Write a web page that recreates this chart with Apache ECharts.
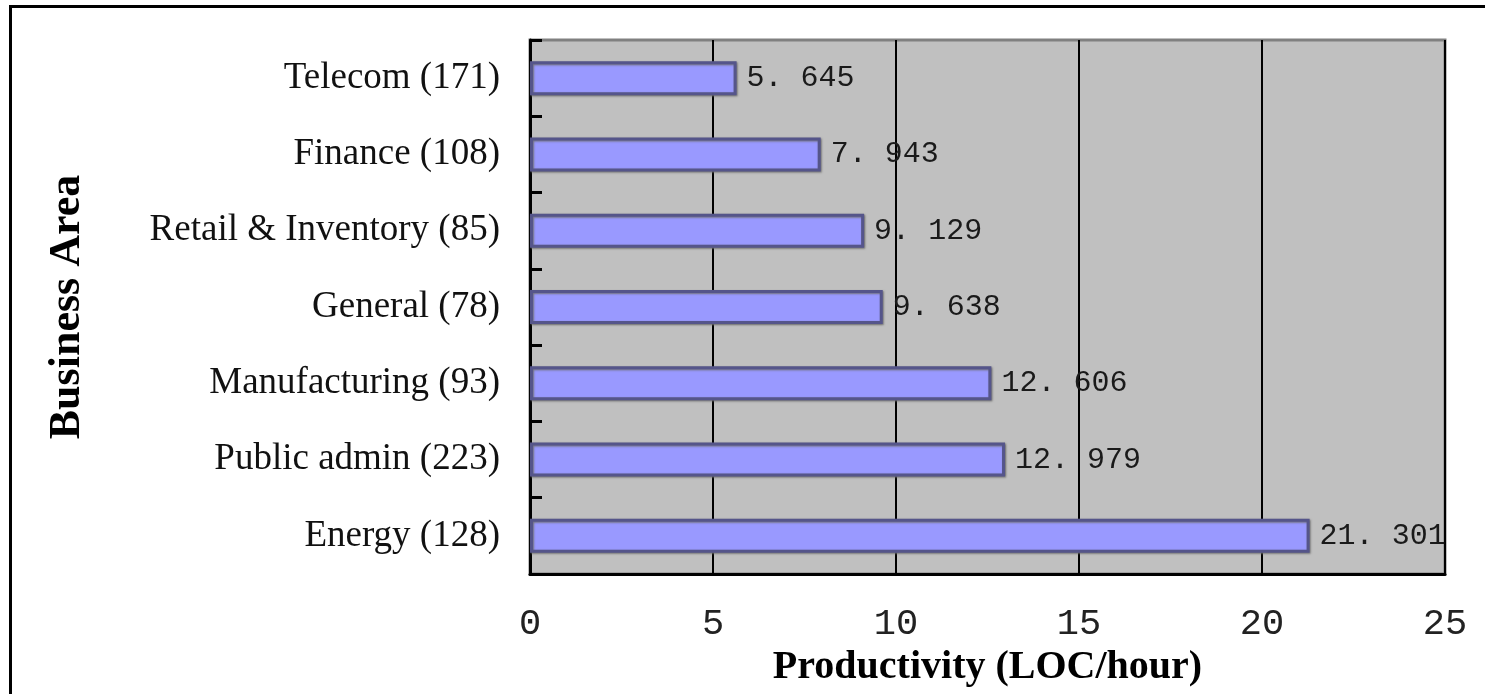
<!DOCTYPE html>
<html>
<head>
<meta charset="utf-8">
<script src="https://cdn.jsdelivr.net/npm/echarts@6/dist/echarts.min.js"></script>
<style>
html,body{margin:0;padding:0;background:#fff;}
#chart{width:1485px;height:694px;}
</style>
</head>
<body>
<div id="chart"></div>
<script>
const categories = ["Telecom (171)", "Finance (108)", "Retail & Inventory (85)", "General (78)", "Manufacturing (93)", "Public admin (223)", "Energy (128)"];
const productivity = [5.645, 7.943, 9.129, 9.638, 12.606, 12.979, 21.301];
const xTicks = [0, 5, 10, 15, 20, 25];
const xTitle = "Productivity (LOC/hour)";
const yTitle = "Business Area";

const chart = echarts.init(document.getElementById('chart'), null, {renderer: 'canvas'});
chart.setOption({
  backgroundColor: '#ffffff',
  animation: false,
  graphic: [{
    type: 'polyline',
    shape: {points: [[10.5, 700], [10.5, 6.5], [1490, 6.5]]},
    style: {stroke: '#000', lineWidth: 3, fill: null},
    z: 100
  }],
  grid: {
    left: 530, right: 40, top: 40, bottom: 120,
    show: true, backgroundColor: '#c0c0c0', borderColor: '#808080', borderWidth: 3
  },
  xAxis: {
    type: 'value',
    min: xTicks[0], max: xTicks[xTicks.length - 1], interval: 5,
    axisLine: {show: true, lineStyle: {color: '#000', width: 3}},
    axisTick: {show: false},
    splitLine: {show: true, lineStyle: {color: '#000', width: 2}},
    axisLabel: {
      margin: 50, verticalAlign: 'middle',
      fontFamily: 'Liberation Mono', fontSize: 37, color: '#222'
    },
    name: xTitle, nameLocation: 'middle', nameGap: 68,
    nameTextStyle: {fontFamily: 'Liberation Serif', fontWeight: 'bold', fontSize: 40, color: '#000'}
  },
  yAxis: {
    type: 'category', data: categories, inverse: true,
    axisLine: {show: true, lineStyle: {color: '#000', width: 3}},
    axisTick: {show: true, inside: true, length: 12, lineStyle: {color: '#000', width: 3}},
    splitLine: {show: false},
    axisLabel: {
      margin: 30, fontFamily: 'Liberation Serif', fontSize: 37, color: '#111'
    },
    name: yTitle, nameLocation: 'middle', nameGap: 440, nameRotate: 90,
    nameTextStyle: {fontFamily: 'Liberation Serif', fontWeight: 'bold', fontSize: 44, color: '#000'}
  },
  series: [{
    type: 'bar',
    data: productivity,
    barWidth: 34,
    itemStyle: {
      color: '#9999ff', borderColor: '#55558a', borderWidth: 3,
      shadowColor: 'rgba(110,110,110,0.9)', shadowBlur: 2, shadowOffsetX: 1, shadowOffsetY: 1
    },
    label: {
      show: true, position: 'right', distance: 10,
      fontFamily: 'Liberation Mono', fontSize: 30, color: '#1a1a1a',
      formatter: p => p.value.toFixed(3).replace('.', '. ')
    }
  }]
});
</script>
</body>
</html>
